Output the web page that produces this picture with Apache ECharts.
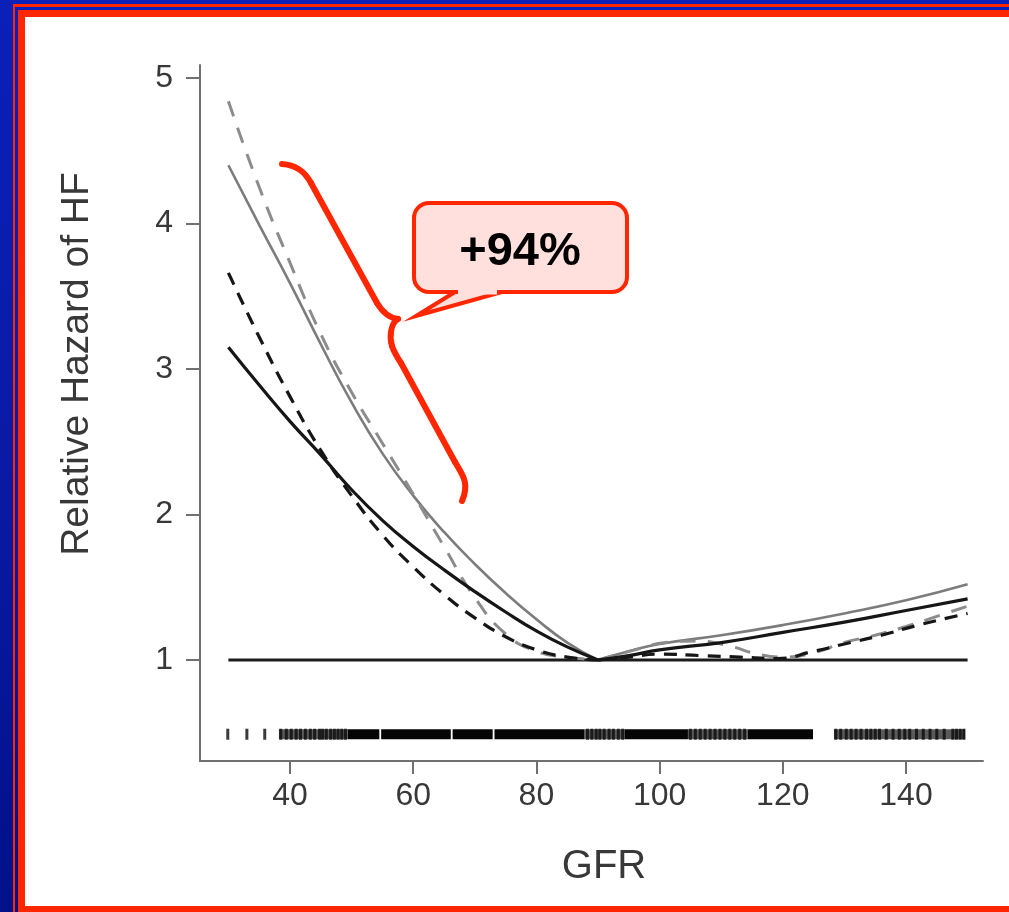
<!DOCTYPE html>
<html>
<head>
<meta charset="utf-8">
<title>Relative Hazard of HF by GFR</title>
<script src="https://cdn.jsdelivr.net/npm/echarts@6/dist/echarts.min.js"></script>
<style>
  html, body { margin: 0; padding: 0; }
  body {
    width: 1009px; height: 912px; overflow: hidden; position: relative;
    background: linear-gradient(180deg, #0b20b9 0%, #0a1aa6 50%, #00118a 100%);
  }
  .thin-frame {
    position: absolute; left: 13px; top: 4px; right: -20px; bottom: -20px;
    border-left: 2px solid #ff2600; border-top: 3px solid #ff2600;
  }
  .panel {
    position: absolute; left: 18px; top: 10px; right: -20px; height: 902px;
    box-sizing: border-box; background: #ffffff;
    border-left: 7px solid #ff2600; border-top: 7px solid #ff2600; border-bottom: 6px solid #ff2600;
  }
  #chart { position: absolute; left: 0; top: 0; width: 1009px; height: 912px; }
</style>
</head>
<body>
<div class="thin-frame"></div>
<div class="panel"></div>
<div id="chart"></div>
<script>
// Tick positions
const gfrTicks = [40, 60, 80, 100, 120, 140];
const hazardTicks = [1, 2, 3, 4, 5];

// Reference line (relative hazard = 1)
const referenceLine = [[30, 1], [150, 1]];

// Spline estimates, below and above the GFR = 90 reference point
const blackSolidLow = [[30, 3.15], [35, 2.89], [40, 2.64], [45, 2.41], [50, 2.17], [55, 1.96], [60, 1.78], [65, 1.62], [70, 1.47], [75, 1.33], [80, 1.20], [85, 1.09], [90, 1.0]];
const blackSolidHigh = [[90, 1.0], [95, 1.03], [100, 1.07], [110, 1.12], [120, 1.19], [130, 1.26], [140, 1.34], [150, 1.42]];

const blackDashedLow = [[30, 3.66], [35, 3.22], [40, 2.81], [45, 2.44], [50, 2.13], [55, 1.86], [60, 1.64], [65, 1.45], [70, 1.29], [75, 1.16], [80, 1.07], [85, 1.02], [90, 1.0]];
const blackDashedHigh = [[90, 1.0], [95, 1.02], [100, 1.04], [107, 1.03], [113, 1.02], [119, 1.01], [125, 1.06], [130, 1.11], [136, 1.17], [142, 1.24], [150, 1.32]];

const graySolidLow = [[30, 4.40], [35, 3.99], [40, 3.59], [45, 3.17], [50, 2.77], [55, 2.42], [60, 2.13], [65, 1.88], [70, 1.66], [75, 1.46], [80, 1.28], [85, 1.12], [90, 1.0]];
const graySolidHigh = [[90, 1.0], [95, 1.06], [100, 1.11], [110, 1.17], [120, 1.24], [130, 1.32], [140, 1.41], [150, 1.52]];

const grayDashedLow = [[30, 4.84], [35, 4.25], [40, 3.73], [45, 3.24], [50, 2.84], [55, 2.49], [60, 2.14], [65, 1.78], [70, 1.43], [75, 1.18], [80, 1.06], [85, 1.02], [90, 1.0]];
const grayDashedHigh = [[90, 1.0], [96, 1.07], [101, 1.12], [106, 1.13], [111, 1.10], [116, 1.04], [120, 1.02], [125, 1.05], [130, 1.12], [135, 1.17], [140, 1.23], [145, 1.30], [150, 1.37]];

// Rug of observed GFR values
const rugSolid = [[49.4, 54.5], [54.8, 66.1], [66.4, 72.9], [73.2, 87.8], [94.3, 104.6], [114.3, 124.9]];
const rugShaded = [[38.2, 49.4], [87.8, 94.3], [104.6, 114.3], [128.3, 149.6]];
const rugTicks = [29.9, 33.0, 35.9, 38.5, 39.4, 40.2, 41.0, 41.7, 42.5, 43.3, 44.0, 44.8, 45.3, 45.9, 46.6, 47.2, 47.8, 48.4, 49.0,
  88.3, 89.0, 89.7, 90.3, 91.0, 91.8, 92.5, 93.3, 94.0,
  105.0, 105.8, 106.6, 107.4, 108.2, 109.0, 109.8, 110.6, 111.4, 112.2, 113.0, 113.8,
  128.6, 129.4, 130.3, 131.1, 131.9, 132.7, 133.6, 134.3, 135.0, 135.7, 136.8, 137.9, 138.9, 139.8, 140.6, 141.7, 142.8, 143.9, 145.0, 146.2, 147.6, 148.2, 148.8, 149.4];
const rugLevel = 0.49;

const RED = '#ff2600';
const PINK = '#ffe0dc';
const FONT = '"Liberation Sans", Arial, sans-serif';

const chart = echarts.init(document.getElementById('chart'), null, { renderer: 'canvas' });

function lineSeries(data, color, width, dash) {
  return {
    type: 'line', data: data, symbol: 'none', smooth: 0.5, silent: true,
    lineStyle: { color: color, width: width, type: dash || 'solid', cap: 'butt' },
    z: 3
  };
}

function rugBandSeries(data, color) {
  return {
    type: 'custom', silent: true, z: 2,
    data: data.map(d => [d[0], d[1], rugLevel]),
    renderItem: function (params, api) {
      const a = api.coord([api.value(0), api.value(2)]);
      const b = api.coord([api.value(1), api.value(2)]);
      return {
        type: 'rect',
        shape: { x: a[0], y: a[1] - 5, width: b[0] - a[0], height: 10 },
        style: { fill: color }
      };
    }
  };
}

// Brace strokes (screen space)
const braceStyle = { fill: null, stroke: RED, lineWidth: 6, lineCap: 'round', lineJoin: 'round' };
function braceCurve(x1, y1, c1x, c1y, c2x, c2y, x2, y2) {
  return { type: 'bezierCurve', z: 10, shape: { x1: x1, y1: y1, cpx1: c1x, cpy1: c1y, cpx2: c2x, cpy2: c2y, x2: x2, y2: y2 }, style: braceStyle };
}
function braceLine(x1, y1, x2, y2) {
  return { type: 'line', z: 10, shape: { x1: x1, y1: y1, x2: x2, y2: y2 }, style: braceStyle };
}

const option = {
  backgroundColor: 'transparent',
  animation: false,
  grid: { left: 200, top: 65, width: 783, height: 696 },
  xAxis: {
    type: 'value', min: 25.39, max: 152.5,
    axisLine: { show: true, lineStyle: { color: '#707070', width: 2 } },
    axisTick: { show: true, length: 13, lineStyle: { color: '#707070', width: 2 }, customValues: gfrTicks },
    axisLabel: { show: true, customValues: gfrTicks, margin: 19, color: '#383838', fontSize: 32, fontFamily: FONT },
    splitLine: { show: false }
  },
  yAxis: {
    type: 'value', min: 0.306, max: 5.089,
    axisLine: { show: true, lineStyle: { color: '#707070', width: 2 } },
    axisTick: { show: true, length: 14, lineStyle: { color: '#707070', width: 2 }, customValues: hazardTicks },
    axisLabel: { show: true, customValues: hazardTicks, margin: 27, color: '#383838', fontSize: 32, fontFamily: FONT },
    splitLine: { show: false }
  },
  series: [
    lineSeries(referenceLine, '#1c1c1c', 3),
    lineSeries(graySolidLow, '#7c7c7c', 2.6),
    lineSeries(graySolidHigh, '#7c7c7c', 2.6),
    lineSeries(grayDashedLow, '#8c8c8c', 3, [16, 12]),
    lineSeries(grayDashedHigh, '#8c8c8c', 3, [16, 12]),
    lineSeries(blackDashedLow, '#161616', 3.2, [13, 9]),
    lineSeries(blackDashedHigh, '#161616', 3.2, [13, 9]),
    lineSeries(blackSolidLow, '#161616', 3.2),
    lineSeries(blackSolidHigh, '#161616', 3.2),
    rugBandSeries(rugShaded, '#5a5a5a'),
    rugBandSeries(rugSolid, '#050505'),
    {
      type: 'scatter', silent: true, z: 2,
      data: rugTicks.map(v => [v, rugLevel]),
      symbol: 'rect', symbolSize: [3, 11],
      itemStyle: { color: '#0a0a0a' }
    }
  ],
  graphic: [
    // axis titles
    {
      type: 'text', x: 77, y: 364, rotation: Math.PI / 2,
      style: { text: 'Relative Hazard of HF', fill: '#383838', font: '39px ' + FONT, align: 'center', verticalAlign: 'middle' }
    },
    {
      type: 'text', x: 604, y: 867,
      style: { text: 'GFR', fill: '#383838', font: '40px ' + FONT, align: 'center', verticalAlign: 'middle' }
    },
    // curly brace spanning the low-GFR curves
    braceCurve(282, 164, 297, 165, 305, 172, 311, 183),
    braceLine(311, 183, 377, 303),
    braceCurve(377, 303, 383, 313, 389, 318, 398, 319),
    braceCurve(398, 319, 391, 323, 389, 336, 392, 346),
    braceCurve(392, 346, 394, 352, 397, 357, 401, 363),
    braceLine(401, 363, 455, 462),
    braceCurve(455, 462, 462, 474, 470, 483, 462, 501),
    // callout bubble
    {
      type: 'rect', z: 10,
      shape: { x: 414, y: 203, width: 213, height: 89, r: 15 },
      style: { fill: PINK, stroke: RED, lineWidth: 4 }
    },
    {
      type: 'polygon', z: 11,
      shape: { points: [[455, 292], [416, 316], [502, 292]] },
      style: { fill: PINK, stroke: RED, lineWidth: 4, lineJoin: 'miter' }
    },
    {
      type: 'line', z: 12,
      shape: { x1: 458, y1: 292, x2: 497, y2: 292 },
      style: { stroke: PINK, lineWidth: 5 }
    },
    {
      type: 'text', z: 13, x: 520, y: 252,
      style: { text: '+94%', fill: '#000000', font: 'bold 47px ' + FONT, align: 'center', verticalAlign: 'middle' }
    }
  ]
};

chart.setOption(option);
</script>
</body>
</html>
